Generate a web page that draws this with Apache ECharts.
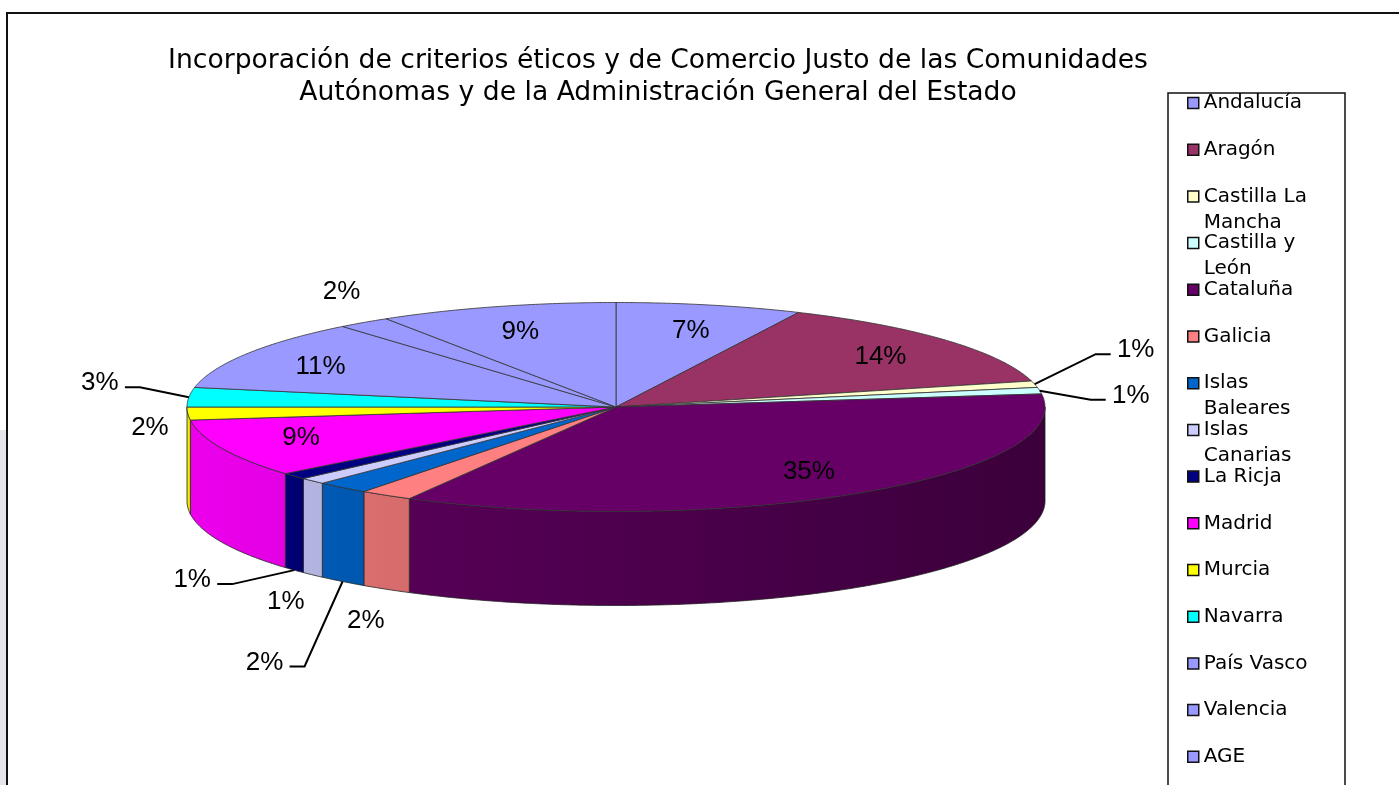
<!DOCTYPE html>
<html>
<head>
<meta charset="utf-8">
<script src="https://cdn.jsdelivr.net/npm/echarts@6/dist/echarts.min.js"></script>
<style>
html, body { margin: 0; padding: 0; background: #fff; }
#chart { width: 1399px; height: 785px; }
</style>
</head>
<body>
<div id="chart"></div>
<script>
// data
const regions = ['Andalucía', 'Aragón', 'Castilla La Mancha', 'Castilla y León', 'Cataluña', 'Galicia',
    'Islas Baleares', 'Islas Canarias', 'La Ricja', 'Madrid', 'Murcia', 'Navarra', 'País Vasco', 'Valencia', 'AGE'];
const shares = [7, 14, 1, 1, 35, 2, 2, 1, 1, 9, 2, 3, 11, 2, 9];
const titleLines = ['Incorporación de criterios éticos y de Comercio Justo de las Comunidades',
    'Autónomas y de la Administración General del Estado'];

// styles
const colors = ['#9999ff', '#993366', '#ffffcc', '#ccffff', '#660066', '#ff8080', '#0066cc',
    '#ccccff', '#000080', '#ff00ff', '#ffff00', '#00ffff', '#9999ff', '#9999ff', '#9999ff'];
// how each percentage label sits: in = on the top face, out = just outside, lead = moved out with a leader line
const labelMode = ['in', 'in', 'lead', 'lead', 'in', 'out', 'lead', 'out', 'lead', 'in', 'out', 'lead', 'in', 'out', 'in'];
const leadShift = { 2: [101, -34], 3: [91, 5], 6: [-78, 81], 8: [-102, 10], 11: [-89, -14] };

const pie = { cx: 616, cy: 407, rx: 429, ry: 104.5, depth: 94 };
const labelFont = '26px "Liberation Sans", Arial, sans-serif';
const legendFont = '20px "DejaVu Sans"';
const legendTextWidth = 128;

const total = shares.reduce((a, b) => a + b, 0);
const starts = [];
let acc = 0;
shares.forEach(v => { starts.push(acc); acc += v; });

function pt(t, dy) {
    return [pie.cx + pie.rx * Math.sin(t), pie.cy - pie.ry * Math.cos(t) + (dy || 0)];
}

function arc(a0, a1, dy) {
    const n = Math.max(2, Math.ceil((a1 - a0) / 0.01));
    const out = [];
    for (let k = 0; k <= n; k++) {
        out.push(pt(a0 + (a1 - a0) * k / n, dy));
    }
    return out;
}

function shade(hex, k) {
    const n = parseInt(hex.slice(1), 16);
    const r = (n >> 16) & 255, g = (n >> 8) & 255, b = n & 255;
    return 'rgb(' + Math.round(r * k) + ',' + Math.round(g * k) + ',' + Math.round(b * k) + ')';
}

// every legend entry gets three lines (blank first), so the square always sits on the name's first line
const measureCtx = document.createElement('canvas').getContext('2d');
measureCtx.font = legendFont;
function legendLabel(name) {
    const wraps = measureCtx.measureText(name).width > legendTextWidth;
    return '\u00a0\n' + name + (wraps ? '' : '\n\u00a0');
}

function renderSlice(i) {
    return function (params, api) {
        const v = api.value(0);
        const a0 = starts[i] / total * Math.PI * 2;
        const a1 = (starts[i] + v) / total * Math.PI * 2;
        const children = [];

        // front wall of the disc
        const b0 = Math.max(a0, Math.PI / 2), b1 = Math.min(a1, Math.PI * 1.5);
        if (b1 > b0) {
            const pts = arc(b0, b1, 0).concat(arc(b0, b1, pie.depth).reverse());
            children.push({
                type: 'polygon', z2: 1,
                shape: { points: pts },
                style: {
                    fill: new echarts.graphic.LinearGradient(pie.cx - pie.rx, 0, pie.cx + pie.rx, 0, [
                        { offset: 0, color: shade(colors[i], 0.93) },
                        { offset: 1, color: shade(colors[i], 0.58) }
                    ], true),
                    stroke: '#222', lineWidth: 0.8
                }
            });
        }

        // top face
        children.push({
            type: 'polygon', z2: 5,
            shape: { points: [[pie.cx, pie.cy]].concat(arc(a0, a1, 0)) },
            style: { fill: colors[i], stroke: '#333', lineWidth: 0.8 }
        });

        // label
        const mid = (a0 + a1) / 2;
        const s = Math.sin(mid), c = Math.cos(mid);
        let lx, ly;
        if (labelMode[i] === 'in') {
            lx = pie.cx + pie.rx * 0.8 * s;
            ly = pie.cy - pie.ry * 0.75 * c;
        } else {
            const drop = c < 0 ? pie.depth * Math.min(1, -c * 2) : 0;
            const edge = pt(mid, drop);
            if (labelMode[i] === 'out') {
                lx = edge[0] + 38 * s;
                ly = edge[1] - 38 * c;
            } else {
                const d = leadShift[i];
                lx = edge[0] + d[0];
                ly = edge[1] + d[1];
                const side = lx < edge[0] ? 1 : -1;
                const ex = lx + side * 25, ey = ly + 4;
                children.push({
                    type: 'polyline', z2: 9,
                    shape: { points: [edge, [ex + side * 15, ey], [ex, ey]] },
                    style: { stroke: '#000', lineWidth: 2, fill: null }
                });
            }
        }
        children.push({
            type: 'text', z2: 10,
            style: { text: v + '%', x: lx, y: ly, align: 'center', verticalAlign: 'middle', font: labelFont, fill: '#000' }
        });

        return { type: 'group', children: children };
    };
}

const series = regions.map((name, i) => ({
    name: name,
    type: 'custom',
    coordinateSystem: 'none',
    silent: true,
    itemStyle: { color: colors[i] },
    data: [[shares[i]]],
    renderItem: renderSlice(i)
}));

const options = {
    animation: false,
    backgroundColor: '#fff',
    title: {
        text: titleLines.join('\n'),
        left: 653,
        top: 40,
        textAlign: 'center',
        textStyle: {
            fontFamily: '"DejaVu Sans", sans-serif',
            fontSize: 26.6,
            fontWeight: 'normal',
            lineHeight: 32,
            color: '#000'
        }
    },
    legend: {
        orient: 'vertical',
        left: 1187,
        top: 64,
        height: 2000,
        padding: 0,
        itemWidth: 11,
        itemHeight: 11,
        itemGap: -31.3,
        icon: 'rect',
        selectedMode: false,
        itemStyle: { borderColor: '#111', borderWidth: 1.5 },
        formatter: legendLabel,
        textStyle: {
            fontFamily: '"DejaVu Sans", sans-serif',
            fontSize: 20,
            color: '#000',
            width: legendTextWidth,
            overflow: 'break',
            lineHeight: 26
        },
        data: regions
    },
    graphic: [
        { type: 'rect', left: 0, top: 430, shape: { width: 6, height: 355 }, style: { fill: '#e6e6ea' }, silent: true },
        { type: 'polyline', shape: { points: [[7, 800], [7, 13], [1410, 13]] }, style: { stroke: '#111', lineWidth: 2, fill: null }, silent: true },
        { type: 'rect', shape: { x: 1168, y: 93, width: 177, height: 760 }, style: { stroke: '#111', lineWidth: 1.5, fill: null }, silent: true }
    ],
    series: series
};

const myChart = echarts.init(document.getElementById('chart'));
myChart.setOption(options);
</script>
</body>
</html>
